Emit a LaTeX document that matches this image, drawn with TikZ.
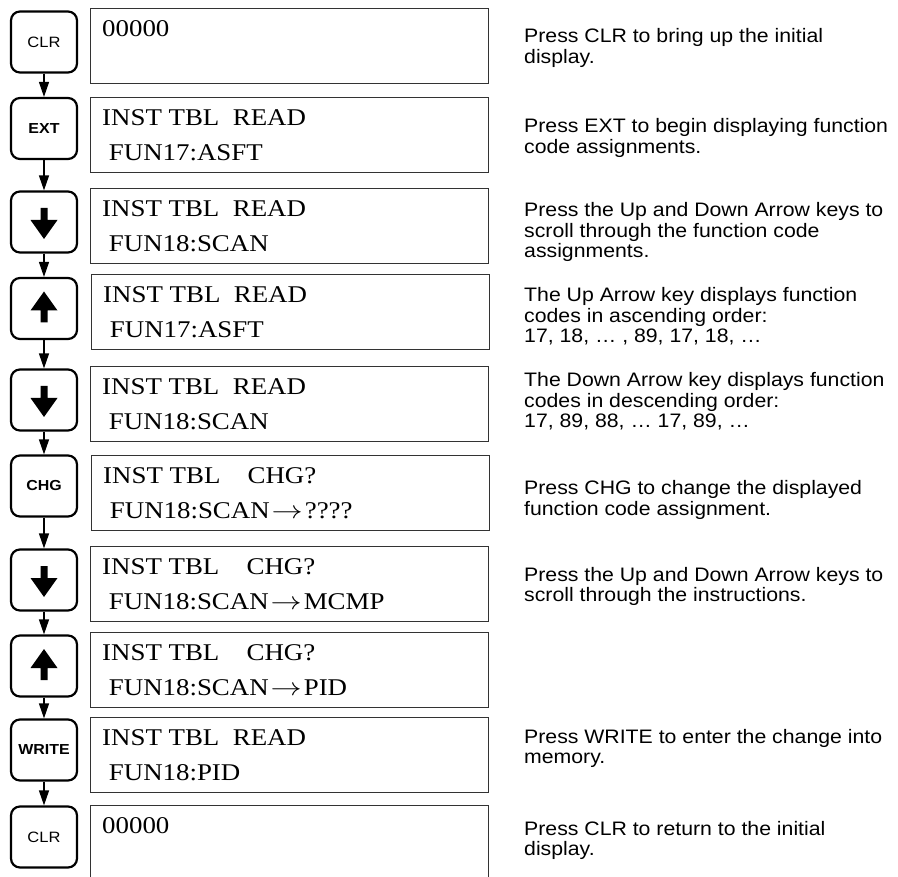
\documentclass[tikz,border=0pt]{standalone}
\usepackage{fontspec}
\setmainfont{Liberation Serif}
\newfontfamily\dispfont[FakeStretch=1.12]{Liberation Serif}
\newfontfamily\descfont[FakeStretch=1.09]{Liberation Sans}
\newfontfamily\keyfont[FakeStretch=1.1]{Liberation Sans}
\usetikzlibrary{arrows.meta}
\tikzset{
  keybox/.style={draw, line width=2.2pt, rounded corners=9pt, minimum width=66pt, minimum height=61pt, inner sep=0pt, font=\keyfont\fontsize{15}{15}\selectfont},
  keybold/.style={keybox, font=\keyfont\bfseries\fontsize{14.5}{14.5}\selectfont},
  dispbox/.style={draw=black!80, line width=1pt, minimum width=398pt, minimum height=75pt, anchor=north west, inner sep=0pt},
  disptext/.style={anchor=base west, inner sep=0pt, font=\dispfont\fontsize{24}{24}\selectfont},
  desc/.style={anchor=base west, inner sep=0pt, font=\descfont\fontsize{19.5}{20}\selectfont},
  conn/.style={line width=1.3pt, -{Triangle[width=10pt,length=15pt]}},
  glyph/.style={fill=black}
}
\newcommand{\dnglyph}[1]{\fill[glyph,shift={(#1.center)}] (-3.5,-14) -- (3.5,-14) -- (3.5,-2) -- (13.5,-2) -- (0,17) -- (-13.5,-2) -- (-3.5,-2) -- cycle;}
\newcommand{\upglyph}[1]{\fill[glyph,shift={(#1.center)}] (-3.5,14) -- (3.5,14) -- (3.5,2) -- (13.5,2) -- (0,-17) -- (-13.5,2) -- (-3.5,2) -- cycle;}
\newcommand{\disptwo}[3]{%
  \node[disptext] (#1a) at ([xshift=12pt,yshift=-28.5pt]#1.north west) {#2};
  \node[disptext] (#1b) at ([xshift=12pt,yshift=-63.5pt]#1.north west) {\ #3};}
\newcommand{\sarrow}{\kern2pt\scalebox{1.25}[1]{$\rightarrow$}\kern2pt}
\newcommand{\chggap}{\ \ \ \kern7pt}
\begin{document}
\begin{tikzpicture}[x=1pt,y=-1pt]
\useasboundingbox (0,0) rectangle (898,877);
\clip (0,0) rectangle (898,877);

% keys
\node[keybox]  (k1)  at (44,42)    {CLR};
\node[keybold] (k2)  at (44,128.5) {EXT};
\node[keybox]  (k3)  at (44,222)   {};
\node[keybox]  (k4)  at (44,308.5) {};
\node[keybox]  (k5)  at (44,400)   {};
\node[keybold] (k6)  at (44,486)   {CHG};
\node[keybox]  (k7)  at (44,580)   {};
\node[keybox]  (k8)  at (44,666)   {};
\node[keybold] (k9)  at (44,750)   {WRITE};
\node[keybox]  (k10) at (44,837)   {CLR};
\dnglyph{k3}
\upglyph{k4}
\dnglyph{k5}
\dnglyph{k7}
\upglyph{k8}

\foreach \a/\b in {k1/k2,k2/k3,k3/k4,k4/k5,k5/k6,k6/k7,k7/k8,k8/k9,k9/k10}
  \draw[conn] (\a.south) -- (\b.north);

% display boxes
\node[dispbox] (d1)  at (90,8)   {};
\node[dispbox] (d2)  at (90,97)  {};
\node[dispbox] (d3)  at (90,188) {};
\node[dispbox] (d4)  at (91,274) {};
\node[dispbox] (d5)  at (90,366) {};
\node[dispbox] (d6)  at (91,455) {};
\node[dispbox] (d7)  at (90,546) {};
\node[dispbox] (d8)  at (90,632) {};
\node[dispbox] (d9)  at (90,717) {};
\node[dispbox, minimum height=95pt] (d10) at (90,805) {};

\node[disptext] (d1a) at ([xshift=12pt,yshift=-28.5pt]d1.north west) {00000};
\disptwo{d2}{INST TBL\ \ READ}{FUN17:ASFT}
\disptwo{d3}{INST TBL\ \ READ}{FUN18:SCAN}
\disptwo{d4}{INST TBL\ \ READ}{FUN17:ASFT}
\disptwo{d5}{INST TBL\ \ READ}{FUN18:SCAN}
\disptwo{d6}{INST TBL\chggap CHG?}{FUN18:SCAN\sarrow????}
\disptwo{d7}{INST TBL\chggap CHG?}{FUN18:SCAN\sarrow MCMP}
\disptwo{d8}{INST TBL\chggap CHG?}{FUN18:SCAN\sarrow PID}
\disptwo{d9}{INST TBL\ \ READ}{FUN18:PID}
\node[disptext] (d10a) at ([xshift=12pt,yshift=-28.5pt]d10.north west) {00000};

% descriptions
\node[desc] (t1) at (524,43)  {\begin{tabular}[t]{@{}l@{}}Press CLR to bring up the initial\\display.\end{tabular}};
\node[desc] (t2) at (524,133) {\begin{tabular}[t]{@{}l@{}}Press EXT to begin displaying function\\code assignments.\end{tabular}};
\node[desc] (t3) at (524,217) {\begin{tabular}[t]{@{}l@{}}Press the Up and Down Arrow keys to\\scroll through the function code\\assignments.\end{tabular}};
\node[desc] (t4) at (524,302) {\begin{tabular}[t]{@{}l@{}}The Up Arrow key displays function\\codes in ascending order:\\17, 18, … , 89, 17, 18, …\end{tabular}};
\node[desc] (t5) at (524,387) {\begin{tabular}[t]{@{}l@{}}The Down Arrow key displays function\\codes in descending order:\\17, 89, 88, … 17, 89, …\end{tabular}};
\node[desc] (t6) at (524,495) {\begin{tabular}[t]{@{}l@{}}Press CHG to change the displayed\\function code assignment.\end{tabular}};
\node[desc] (t7) at (524,581) {\begin{tabular}[t]{@{}l@{}}Press the Up and Down Arrow keys to\\scroll through the instructions.\end{tabular}};
\node[desc] (t9) at (524,743) {\begin{tabular}[t]{@{}l@{}}Press WRITE to enter the change into\\memory.\end{tabular}};
\node[desc] (t10) at (524,835) {\begin{tabular}[t]{@{}l@{}}Press CLR to return to the initial\\display.\end{tabular}};
\end{tikzpicture}
\end{document}
